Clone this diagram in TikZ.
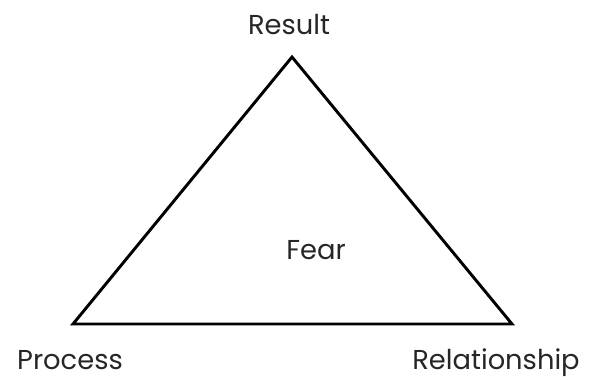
\documentclass[tikz,border=0pt]{standalone}
\usepackage{fontspec}
\setmainfont{Poppins}
\usetikzlibrary{positioning}

\begin{document}
\begin{tikzpicture}[
      x=0.75pt, y=-0.75pt,
      lbl/.style={font=\fontsize{20.5}{24}\selectfont, text=black!85, inner sep=0pt},
      edge/.style={line width=2.2pt, black, line join=miter},
    ]
    \useasboundingbox (0,0) rectangle (606,379);
    \coordinate (top)   at (292,57);
    \coordinate (left)  at (73,324);
    \coordinate (right) at (512,324);

    \node[lbl, anchor=base] (result) at (289,34)  {Result};
    \node[lbl, anchor=base] (fear)   at (316,259) {Fear};
    \node[lbl, anchor=base] (proc)   at (70,369)  {Process};
    \node[lbl, anchor=base] (rel)    at (496,369) {Relationship};

    \draw[edge] (top) -- (right) -- (left) -- cycle;
  \end{tikzpicture}
\end{document}
